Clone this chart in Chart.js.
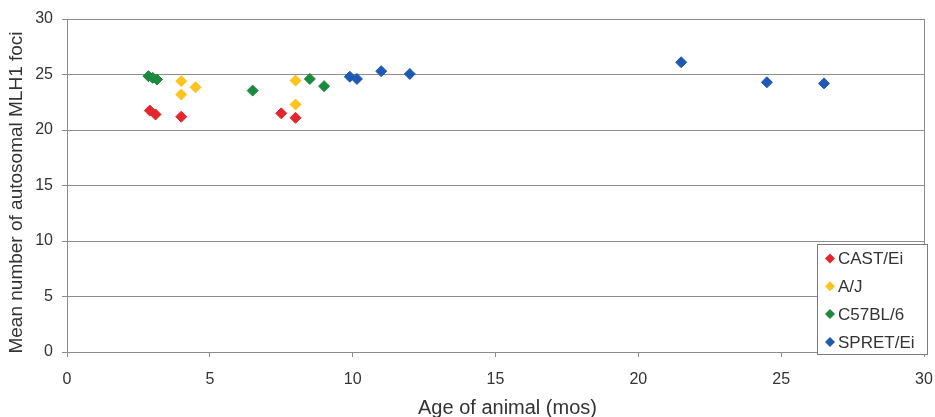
<!DOCTYPE html>
<html>
<head>
<meta charset="utf-8">
<script src="https://cdn.jsdelivr.net/npm/chart.js@4/dist/chart.umd.min.js"></script>
<style>
  html, body { margin: 0; padding: 0; background: #ffffff; }
  #wrap { width: 935px; height: 417px; position: relative; }
</style>
</head>
<body>
<div id="wrap"><canvas id="c" width="935" height="417"></canvas></div>
<script>
// ---- data ----
const seriesNames = ['CAST/Ei', 'A/J', 'C57BL/6', 'SPRET/Ei'];
const seriesColors = ['#e3262b', '#fcc41c', '#1b8a3f', '#1f59b6'];

const castAge   = [2.9, 3.1, 4.0, 7.5, 8.0];
const castFoci  = [21.75, 21.4, 21.2, 21.5, 21.1];

const ajAge     = [4.0, 4.0, 4.5, 8.0, 8.0];
const ajFoci    = [24.4, 23.2, 23.85, 24.45, 22.3];

const c57Age    = [2.85, 3.0, 3.15, 6.5, 8.5, 9.0];
const c57Foci   = [24.85, 24.7, 24.55, 23.55, 24.6, 23.95];

const spretAge  = [9.9, 10.15, 11.0, 12.0, 21.5, 24.5, 26.5];
const spretFoci = [24.8, 24.6, 25.3, 25.05, 26.1, 24.3, 24.2];

const xTicks = [0, 5, 10, 15, 20, 25, 30];
const yTicks = [0, 5, 10, 15, 20, 25, 30];

const xTitle = 'Age of animal (mos)';
const yTitle = 'Mean number of autosomal MLH1 foci';

function pts(xs, ys) { return xs.map((x, i) => ({ x: x, y: ys[i] })); }
const allSeries = [pts(castAge, castFoci), pts(ajAge, ajFoci), pts(c57Age, c57Foci), pts(spretAge, spretFoci)];

const datasets = allSeries.map((d, i) => ({
  label: seriesNames[i],
  data: d,
  pointStyle: 'rectRot',
  pointRadius: 5.5,
  pointHoverRadius: 5.5,
  pointBackgroundColor: seriesColors[i],
  pointBorderColor: seriesColors[i],
  pointBorderWidth: 1,
  backgroundColor: seriesColors[i],
  borderColor: seriesColors[i],
  showLine: false
}));

const FONT = '"Liberation Sans", Arial, sans-serif';
const TEXT = '#333333';
const GRID = '#8c8c8c';

// frame, axis titles and in-plot legend box (drawn from the dataset labels/colours)
const framePlugin = {
  id: 'frameLegend',
  afterDraw(chart) {
    const ctx = chart.ctx;
    const a = chart.chartArea;
    ctx.save();
    ctx.strokeStyle = GRID;
    ctx.lineWidth = 1;
    ctx.beginPath();
    ctx.moveTo(Math.round(a.right) + 0.5, a.top);
    ctx.lineTo(Math.round(a.right) + 0.5, a.bottom);
    ctx.stroke();

    // axis titles
    ctx.fillStyle = TEXT;
    ctx.textAlign = 'center';
    ctx.textBaseline = 'middle';
    ctx.font = '20px ' + FONT;
    ctx.fillText(xTitle, (a.left + a.right) / 2 + 12, a.bottom + 56);
    ctx.save();
    ctx.translate(17, (a.top + a.bottom) / 2 + 7);
    ctx.rotate(-Math.PI / 2);
    ctx.font = '19px ' + FONT;
    ctx.fillText(yTitle, 0, 0);
    ctx.restore();

    // legend box
    const bw = 110, bh = 110;
    const bx = Math.round(a.right) - bw + 3.5;
    const by = Math.round(a.bottom) - bh + 2.5;
    ctx.fillStyle = '#ffffff';
    ctx.fillRect(bx, by, bw, bh);
    ctx.strokeStyle = '#7a7a7a';
    ctx.strokeRect(bx, by, bw, bh);

    ctx.font = '17px ' + FONT;
    ctx.textBaseline = 'middle';
    ctx.textAlign = 'left';
    chart.data.datasets.forEach((ds, i) => {
      const cy = by + 14 + i * 27.8;
      const cx = bx + 12.5;
      const r = 5;
      ctx.fillStyle = ds.backgroundColor;
      ctx.beginPath();
      ctx.moveTo(cx - r, cy);
      ctx.lineTo(cx, cy - r);
      ctx.lineTo(cx + r, cy);
      ctx.lineTo(cx, cy + r);
      ctx.closePath();
      ctx.fill();
      ctx.fillStyle = TEXT;
      ctx.fillText(ds.label, cx + 8, cy + 1);
    });
    ctx.restore();
  }
};

new Chart(document.getElementById('c'), {
  type: 'scatter',
  data: { datasets: datasets },
  options: {
    responsive: false,
    animation: false,
    devicePixelRatio: 1,
    layout: { padding: { top: 19, right: 11, left: 0, bottom: 0 } },
    plugins: {
      legend: { display: false },
      tooltip: { enabled: false }
    },
    scales: {
      x: {
        type: 'linear',
        min: 0, max: 30,
        afterFit(s) { s.height = 65; s.paddingLeft = 0; s.paddingRight = 0; },
        afterBuildTicks(s) { s.ticks = xTicks.map(v => ({ value: v })); },
        grid: { drawOnChartArea: false, drawTicks: true, tickLength: 5, color: GRID },
        border: { display: true, color: GRID, width: 1 },
        ticks: { color: TEXT, font: { family: FONT, size: 16 }, padding: 13, maxRotation: 0 },
        title: { display: false, text: xTitle }
      },
      y: {
        type: 'linear',
        min: 0, max: 30,
        afterFit(s) { s.width = 67; s.paddingTop = 0; s.paddingBottom = 0; },
        afterBuildTicks(s) { s.ticks = yTicks.map(v => ({ value: v })); },
        grid: { drawOnChartArea: true, drawTicks: true, tickLength: 5, color: GRID },
        border: { display: true, color: GRID, width: 1 },
        ticks: { color: TEXT, font: { family: FONT, size: 16 }, padding: 9 },
        title: { display: false, text: yTitle }
      }
    }
  },
  plugins: [framePlugin]
});
</script>
</body>
</html>
